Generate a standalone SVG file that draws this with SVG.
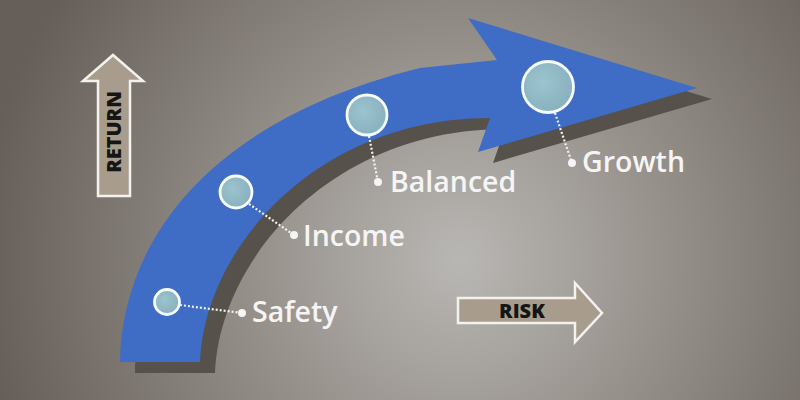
<svg xmlns="http://www.w3.org/2000/svg" width="800" height="400" viewBox="0 0 800 400">
<defs>
<radialGradient id="bg" cx="460" cy="260" r="480" gradientUnits="userSpaceOnUse">
<stop offset="0" stop-color="#b9b7b4"/>
<stop offset="0.45" stop-color="#958f89"/>
<stop offset="1" stop-color="#665f59"/>
</radialGradient>
<radialGradient id="dot" cx="0.4" cy="0.4" r="0.7">
<stop offset="0" stop-color="#9cc4cf"/>
<stop offset="1" stop-color="#86aebb"/>
</radialGradient>
<path id="arrow" d="M120,362 C122,240 210,120 420,68 L497,60 L468,18 L697,88 L478,152 L490,118 C320,118 205,245 200,362 Z"/>
</defs>
<style>
.lbl{font-family:"Open Sans","Noto Sans","Liberation Sans",sans-serif;font-weight:600;font-size:28.5px;fill:#f5f5f5}
.axis{fill:#a89d8c;stroke:#f4f2ee;stroke-width:2.5}
.axt{font-family:"Open Sans","Liberation Sans",sans-serif;font-weight:800;font-size:20px;fill:#151515}
.circ{fill:url(#dot);stroke:#f6fbfc;stroke-width:2.8}
.conn{stroke:#f2f2f2;stroke-width:2.2;stroke-dasharray:2 2;fill:none}
.end{fill:#f5f5f5}
</style>
<rect width="800" height="400" fill="url(#bg)"/>
<g id="return-axis">
<path class="axis" d="M98,196 L98,81 L83,81 L113,55 L143,81 L130,81 L130,196 Z"/>
<text class="axt" transform="translate(121,132) rotate(-90)" text-anchor="middle">RETURN</text>
</g>
<g id="risk-axis">
<path class="axis" d="M458,298 L575,298 L575,283 L602,313 L575,342 L575,323 L458,323 Z"/>
<text class="axt" x="522" y="318" text-anchor="middle" font-size="21">RISK</text>
</g>
<g id="main-arrow">
<use href="#arrow" transform="translate(15,11)" fill="#57514c"/>
<use href="#arrow" fill="#3f6cc5"/>
</g>
<g id="connectors">
<line class="conn" x1="180" y1="305" x2="242" y2="313"/>
<line class="conn" x1="249" y1="204" x2="294" y2="235"/>
<line class="conn" x1="369" y1="136" x2="378" y2="182"/>
<line class="conn" x1="555" y1="113" x2="572" y2="163"/>
</g>
<g id="safety">
<circle class="circ" cx="167" cy="302" r="12.5"/>
<circle class="end" cx="242" cy="313" r="4"/>
<text class="lbl" x="252" y="322">Safety</text>
</g>
<g id="income">
<circle class="circ" cx="236" cy="192" r="16"/>
<circle class="end" cx="294" cy="235" r="4"/>
<text class="lbl" x="303" y="246">Income</text>
</g>
<g id="balanced">
<circle class="circ" cx="367" cy="115" r="20"/>
<circle class="end" cx="378" cy="182" r="4"/>
<text class="lbl" x="390" y="192">Balanced</text>
</g>
<g id="growth">
<circle class="circ" cx="548" cy="87" r="25.5"/>
<circle class="end" cx="572" cy="163" r="4"/>
<text class="lbl" x="582" y="172">Growth</text>
</g>
</svg>
